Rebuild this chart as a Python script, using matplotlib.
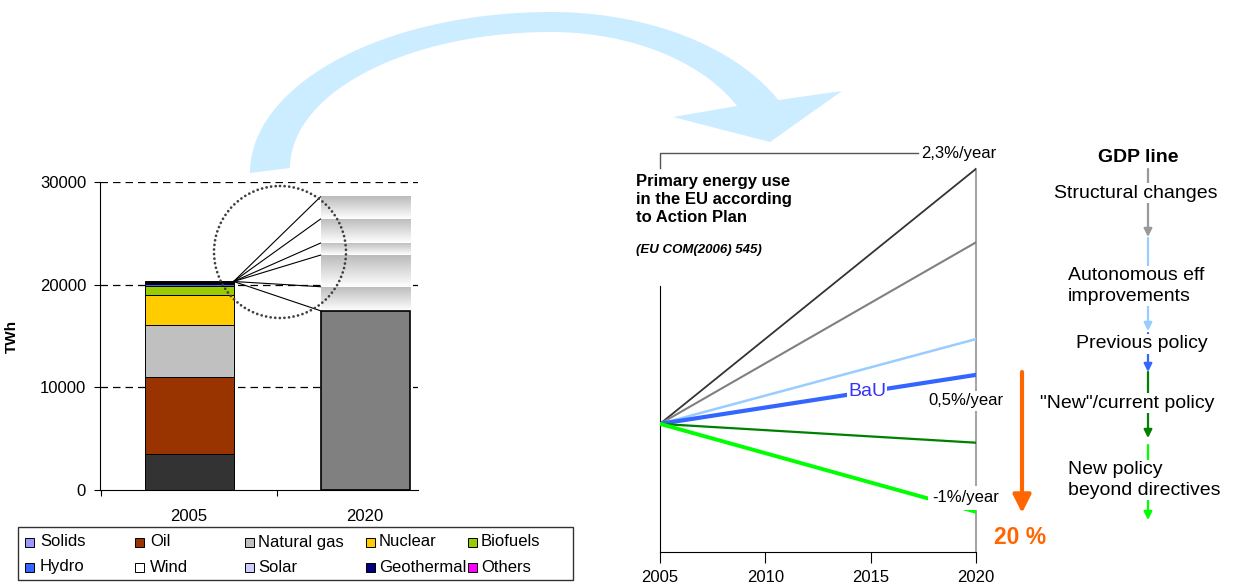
import numpy as np
import matplotlib.pyplot as plt
from matplotlib.patches import Circle, Rectangle, Polygon
from matplotlib.colors import LinearSegmentedColormap

plt.rcParams['font.family'] = ['Liberation Sans', 'DejaVu Sans']

# left panel: EU primary energy by source (TWh)
sources = ['Solids', 'Oil', 'Natural gas', 'Nuclear', 'Biofuels',
           'Hydro', 'Wind', 'Solar', 'Geothermal', 'Others']
mix_2005 = [3480, 7550, 5010, 2920, 870, 250, 30, 10, 150, 40]
bar_colors = ['#333333', '#993300', '#C0C0C0', '#FFCC00', '#99CC00',
              '#3366FF', '#FFFFFF', '#CCCCFF', '#000080', '#FF00FF']
legend_colors = ['#9999FF', '#993300', '#C0C0C0', '#FFCC00', '#99CC00',
                 '#3366FF', '#FFFFFF', '#CCCCFF', '#000080', '#FF00FF']
bar_years = ['2005', '2020']
total_2020 = 17460
band_edges_2020 = [17460, 19800, 22880, 24050, 26390, 28560]

# right panel: primary energy index, 2005 = 100
years = [2005, 2020]
gdp_line = [100, 140.6]
structural = [100, 128.9]
autonomous = [100, 113.5]
bau = [100, 107.8]
current_policy = [100, 97.0]
new_policy = [100, 86.0]

W, H = 1237, 585
fig = plt.figure(figsize=(W / 100, H / 100), dpi=100)


def px_axes(x0, y0, x1, y1):
    # box given in pixels, origin top-left
    return fig.add_axes([x0 / W, 1 - y1 / H, (x1 - x0) / W, (y1 - y0) / H])


# ---------------- left bar chart ----------------
ax1 = px_axes(100, 182, 418, 490)
bw = 0.506
bottom = 0
for v, c in zip(mix_2005, bar_colors):
    ax1.bar(0, v, width=bw, bottom=bottom, color=c, edgecolor='black', lw=0.7, zorder=3)
    bottom += v
top_2005 = bottom
ax1.bar(1, total_2020, width=bw, color='#808080', edgecolor='black', lw=1.2, zorder=3)

fade = LinearSegmentedColormap.from_list('fade', ['#FFFFFF', '#BBBBBB'])
grad = np.linspace(0, 1, 64).reshape(-1, 1)
for lo, hi in zip(band_edges_2020[:-1], band_edges_2020[1:]):
    ax1.imshow(grad, extent=(1 - bw / 2, 1 + bw / 2, lo, hi), origin='lower',
               cmap=fade, aspect='auto', zorder=2)
for e in band_edges_2020:
    ax1.plot([bw / 2, 1 - bw / 2], [top_2005, e], color='black', lw=0.8, zorder=4)

ax1.set_xlim(-0.506, 1.301)
ax1.set_ylim(0, 30000)
ax1.set_yticks([0, 10000, 20000, 30000])
ax1.set_axisbelow(True)
ax1.yaxis.grid(True, ls=(0, (6, 4)), color='black', lw=0.9)
ax1.get_ygridlines()[0].set_visible(False)
ax1.set_xticks([-0.5, 0.5])
ax1.set_xticklabels([])
ax1.set_xticks([0, 1], minor=True)
ax1.set_xticklabels(bar_years, minor=True)
ax1.tick_params(axis='x', which='major', length=4, direction='out')
ax1.tick_params(axis='x', which='minor', length=0, pad=14, labelsize=12)
ax1.tick_params(axis='y', length=4, direction='out', pad=6, labelsize=12)
for s in ['top', 'right']:
    ax1.spines[s].set_visible(False)
ax1.spines['bottom'].set_zorder(5)
ax1.spines['bottom'].set_color('black')
ax1.set_ylabel('TWh', fontsize=11, fontweight='bold')
ax1.yaxis.set_label_coords(-(100 - 19) / 318, 0.5)

# ---------------- right scenario chart ----------------
ax2 = px_axes(660, 150, 976, 552)
series = [(gdp_line, '#333333', 1.3), (structural, '#808080', 1.5),
          (autonomous, '#99CCFF', 1.8), (bau, '#3366FF', 3.0),
          (current_policy, '#008000', 1.6), (new_policy, '#00FF00', 2.8)]
for vals, c, lw in series:
    ax2.plot(years, vals, color=c, lw=lw, zorder=3)
ax2.set_xlim(2005, 2020)
ax2.set_ylim(79.6, 143.6)
ax2.set_xticks([2005, 2010, 2015, 2020])
ax2.set_yticks([])
ax2.tick_params(axis='x', length=8, direction='out', pad=5, labelsize=12)
ax2.spines['top'].set_visible(False)
ax2.spines['left'].set_bounds(79.6, 122)
ax2.spines['right'].set_bounds(79.6, gdp_line[-1])
ax2.spines['right'].set_color('#A6A6A6')
ax2.spines['right'].set_linewidth(1.5)

t = 0.655
ax2.text(years[0] + t * 15, bau[0] + t * (bau[1] - bau[0]), 'BaU', color='#3333FF',
         fontsize=14, ha='center', va='center', zorder=5,
         bbox=dict(facecolor='white', edgecolor='none', pad=1))
ax2.text(2017.4, 143.0, '2,3%/year', fontsize=12, ha='left', va='center', clip_on=False)
ax2.text(2017.72, 103.66, '0,5%/year', fontsize=12, ha='left', va='center', zorder=5,
         clip_on=False, bbox=dict(facecolor='white', edgecolor='none', pad=2))
ax2.text(2017.9, 88.2, '-1%/year', fontsize=12, ha='left', va='center', zorder=5,
         clip_on=False, bbox=dict(facecolor='white', edgecolor='none', pad=3))

# ---------------- overlay in pixel coordinates ----------------
ov = fig.add_axes([0, 0, 1, 1])
ov.set_xlim(0, W)
ov.set_ylim(H, 0)
ov.axis('off')


def arc(cx, cy, a, b, th0, th1, n=60):
    th = np.linspace(th0, th1, n)
    return np.column_stack([cx + a * np.cos(th), cy - b * np.sin(th)])


outer = np.vstack([arc(551, 173, 301, 161, np.pi, np.pi / 2),
                   arc(551, 173, 255, 161, np.pi / 2, np.arcsin(0.453))])
inner = np.vstack([arc(551, 168, 261, 136, np.pi, np.pi / 2),
                   arc(551, 168, 209, 136, np.pi / 2, np.arcsin(0.456))])
head = np.array([[842, 91], [770, 142], [673, 117]])
ov.add_patch(Polygon(np.vstack([outer, head, inner[::-1]]), closed=True,
                     facecolor='#CCECFF', edgecolor='none'))

ov.add_patch(Circle((280, 252), 66, fill=False, ec='#404040', lw=2.0,
                    ls=(0, (0.01, 1.65)), capstyle='round'))

# legend
ov.add_patch(Rectangle((18, 527), 555, 53, fill=False, ec='#333333', lw=1))
sw_x = [25, 135, 245, 366, 468]
tx_x = [40, 150, 258, 379, 481]
rows_y = [542, 567]
for i, (name, c) in enumerate(zip(sources, legend_colors)):
    r, k = divmod(i, 5)
    ov.add_patch(Rectangle((sw_x[k], rows_y[r] - 4.5), 9, 9, facecolor=c, ec='black', lw=0.7))
    ov.text(tx_x[k], rows_y[r], name, fontsize=12, va='center', ha='left')

# title of right chart
ov.plot([660, 660, 918], [168, 153, 153], color='#555555', lw=1)
ov.text(636, 174, 'Primary energy use\nin the EU according\nto Action Plan',
        fontsize=12, fontweight='bold', va='top', ha='left', linespacing=1.25)
ov.text(636, 250, '(EU COM(2006) 545)', fontsize=9.5, fontweight='bold',
        style='italic', va='center', ha='left')

# orange reduction arrow
ov.annotate('', xy=(1022, 513), xytext=(1022, 372),
            arrowprops=dict(arrowstyle='-|>', color='#FF6600', lw=3,
                            mutation_scale=27, shrinkA=0, shrinkB=0))
ov.text(1020, 537, '20 %', color='#FF6600', fontsize=16.5, fontweight='bold',
        ha='center', va='center')

# decomposition column
steps = [(169, 237, '#999999'), (238, 331, '#99CCFF'), (333, 372, '#3366FF'),
         (372, 438, '#008000'), (445, 520, '#00FF00')]
for y0, y1, c in steps:
    ov.annotate('', xy=(1148, y1), xytext=(1148, y0),
                arrowprops=dict(arrowstyle='-|>', color=c, lw=1.6,
                                mutation_scale=12, shrinkA=0, shrinkB=0))
box = dict(facecolor='white', edgecolor='none', pad=1)
ov.text(1138, 157, 'GDP line', fontsize=14, fontweight='bold', ha='center', va='center')
ov.text(1136, 193, 'Structural changes', fontsize=14, ha='center', va='center', bbox=box)
ov.text(1068, 286, 'Autonomous eff\nimprovements', fontsize=14, ha='left', va='center',
        linespacing=1.3, bbox=box)
ov.text(1142, 344, 'Previous policy', fontsize=14, ha='center', va='center', bbox=box)
ov.text(1127, 403, '"New"/current policy', fontsize=14, ha='center', va='center', bbox=box)
ov.text(1068, 480, 'New policy\nbeyond directives', fontsize=14, ha='left', va='center',
        linespacing=1.3, bbox=box)

fig.savefig('out.png', dpi=100)
